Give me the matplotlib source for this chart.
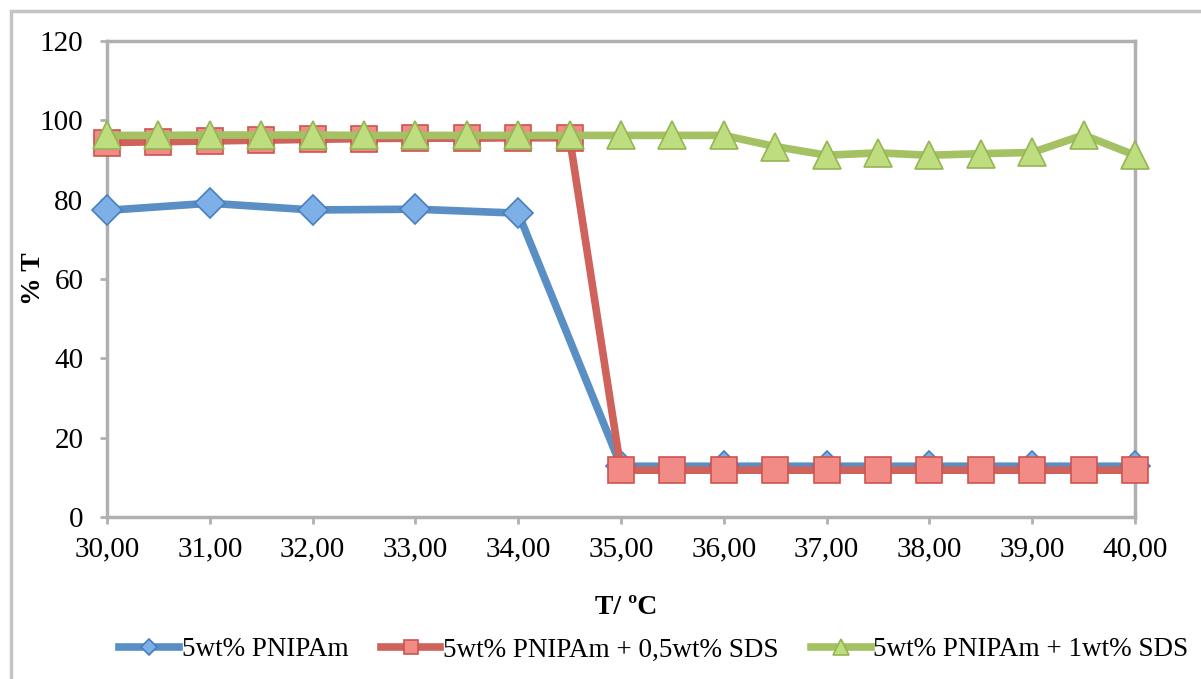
import matplotlib
matplotlib.use("Agg")
import matplotlib.pyplot as plt
from matplotlib.patches import Rectangle
from matplotlib.ticker import FuncFormatter

# ---- data ----
temp_blue = [30, 31, 32, 33, 34, 35, 36, 37, 38, 39, 40]
pnipam = [77.3, 79.1, 77.4, 77.6, 76.6, 12.8, 12.8, 12.8, 12.8, 12.8, 12.8]

temp_half = [30, 30.5, 31, 31.5, 32, 32.5, 33, 33.5, 34, 34.5, 35,
             35.5, 36, 36.5, 37, 37.5, 38, 38.5, 39, 39.5, 40]
pnipam_sds05 = [94.4, 94.6, 94.8, 95.0, 95.2, 95.4, 95.5, 95.5, 95.6, 95.6, 11.8,
                11.8, 11.8, 11.8, 11.8, 11.8, 11.8, 11.8, 11.8, 11.8, 11.8]
pnipam_sds1 = [96.2, 96.2, 96.3, 96.3, 96.3, 96.2, 96.2, 96.2, 96.2, 96.2, 96.2,
               96.2, 96.2, 93.4, 91.2, 91.8, 91.2, 91.6, 91.9, 96.3, 91.2]

labels = ["5wt% PNIPAm", "5wt% PNIPAm + 0,5wt% SDS", "5wt% PNIPAm + 1wt% SDS"]
x_ticks = [30, 31, 32, 33, 34, 35, 36, 37, 38, 39, 40]
y_ticks = [0, 20, 40, 60, 80, 100, 120]

plt.rcParams['font.family'] = ['Liberation Serif', 'DejaVu Serif']

fig = plt.figure(figsize=(12.01, 6.79), dpi=100)
W, H = 1201, 679
ax = fig.add_axes([107 / W, 1 - 517 / H, (1135 - 107) / W, (517 - 41) / H])

# outer chart border (left/top visible)
fig.patches.append(Rectangle((11 / W, -0.05), 1.2, 1 - 11 / H + 0.05,
                             transform=fig.transFigure, fill=False,
                             edgecolor='#c4c4c4', linewidth=2.5, zorder=0))

ax.plot(temp_blue, pnipam, color='#5a8fc6', lw=5.5, marker='D', ms=15,
        mfc='#7eb0e8', mec='#4a7fbf', mew=1.2, label=labels[0], zorder=3,
        solid_joinstyle='round', clip_on=False)
ax.plot(temp_half, pnipam_sds05, color='#cf625a', lw=5.5, marker='s', ms=19,
        mfc='#f28a85', mec='#cc5550', mew=1.2, label=labels[1], zorder=4,
        solid_joinstyle='round', clip_on=False)
ax.plot(temp_half, pnipam_sds1, color='#a4c264', lw=5.5, marker='^', ms=20,
        mfc='#bddd7e', mec='#94b553', mew=1.2, label=labels[2], zorder=5,
        solid_joinstyle='round', clip_on=False)

ax.set_xlim(30, 40)
ax.set_ylim(0, 120)
ax.set_xticks(x_ticks)
ax.set_yticks(y_ticks)
ax.xaxis.set_major_formatter(FuncFormatter(lambda v, p: f"{v:.2f}".replace('.', ',')))

for s in ax.spines.values():
    s.set_color('#b0b0b0')
    s.set_linewidth(2.5)
ax.tick_params(axis='both', direction='out', length=5, width=2, color='#b0b0b0',
               labelsize=21, labelcolor='black')
ax.tick_params(axis='y', pad=12)
ax.tick_params(axis='x', pad=9)

ax.set_xlabel("T/ ºC", fontsize=20, fontweight='bold')
ax.set_ylabel("% T", fontsize=20, fontweight='bold')
ax.xaxis.set_label_coords(0.505, -0.163)
ax.yaxis.set_label_coords(-0.059, 0.5)

leg = fig.legend(loc='center', bbox_to_anchor=(654 / W, 1 - 650 / H), ncol=3,
                 frameon=False, fontsize=19.5, handlelength=2.2, handletextpad=0.1,
                 columnspacing=1.2, markerscale=0.55)

fig.savefig("out.png", dpi=100)
